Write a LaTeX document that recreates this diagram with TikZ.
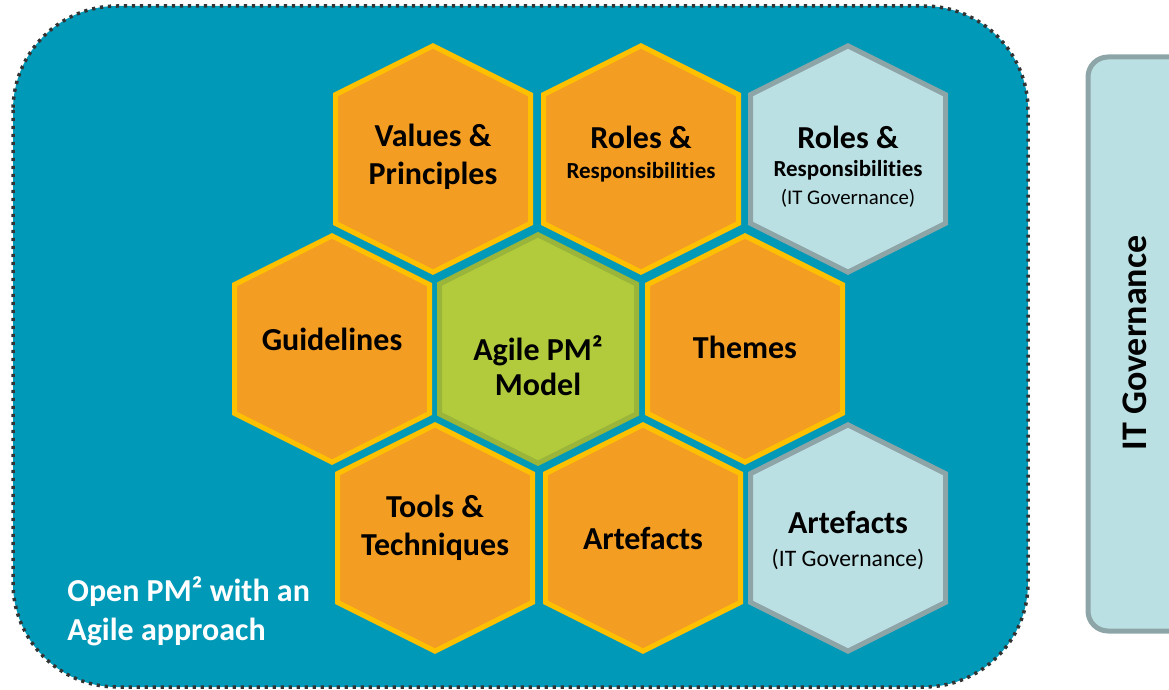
\documentclass[tikz,border=0pt]{standalone}
\usepackage{fontspec}
\setmainfont{Carlito}[Ligatures={NoCommon,NoContextual}]
\usepackage{tikz}

\definecolor{pmteal}{HTML}{0099B8}
\definecolor{pmorange}{HTML}{F49D23}
\definecolor{pmyellow}{HTML}{FFC000}
\definecolor{pmgreen}{HTML}{B1CB3C}
\definecolor{pmgreendark}{HTML}{9BB43A}
\definecolor{pmlight}{HTML}{BBE0E3}
\definecolor{pmgray}{HTML}{8EA5A7}
\definecolor{pmdots}{HTML}{333333}

% hexagon round (x,y), half width a
\newcommand{\hexpath}[3]{(#1,#2) ++(0,{-1.16*#3}) -- ++(#3,{0.5*#3}) -- ++(0,{1.32*#3})
  -- ++({-#3},{0.5*#3}) -- ++({-#3},{-0.5*#3}) -- ++(0,{-1.32*#3}) -- cycle}
\newcommand{\respons}{Responsibili\kern0pt ties}

\tikzset{
  orangecell/.style={fill=pmorange, draw=pmyellow, line width=2.5pt},
  govcell/.style={fill=pmlight, draw=pmgray, line width=2.5pt},
  bigtext/.style={align=center, inner sep=0pt, font=\fontsize{16}{19}\selectfont\bfseries},
  smalltext/.style={align=center, inner sep=0pt, font=\fontsize{16}{15}\selectfont\bfseries}
}

\begin{document}
\begin{tikzpicture}[x=0.5pt, y=-0.5pt]
  \useasboundingbox (0,0) rectangle (1169,690);

  % Rahmen
  \draw[fill=pmteal, draw=pmdots, line width=1.75pt, dash pattern=on 1.6pt off 2.4pt,
    rounded corners=52pt] (13,6) rectangle (1028,687);
  \draw[fill=pmlight, draw=pmgray, line width=2.5pt, rounded corners=10pt]
    (1088,57) rectangle (1200,631);
  \node[rotate=90, inner sep=0pt, font=\fontsize{18}{20}\selectfont\bfseries] (itgov)
    at (1135,343) {IT Governance};

  % Waben
  \draw[orangecell] \hexpath{433}{159}{97.5};
  \draw[orangecell] \hexpath{641}{159}{97.5};
  \draw[govcell] \hexpath{848}{159}{97.5};
  \draw[orangecell] \hexpath{332}{349}{97.5};
  \draw[orangecell] \hexpath{745}{349}{97.5};
  \draw[orangecell] \hexpath{435}{538}{97.5};
  \draw[orangecell] \hexpath{643}{538}{97.5};
  \draw[govcell] \hexpath{848}{538}{97.5};

  % Mitte
  \draw[fill=pmgreen, draw=pmteal, line width=4pt] \hexpath{538}{349}{100.5};
  \draw[draw=pmgreendark, line width=2.5pt] \hexpath{538}{349}{98.5};

  % Texte
  \node[bigtext] (values) at (433,157) {Values \&\\Principles};
  \node[smalltext] (roles) at (641,154)
    {Roles \&\\{\fontsize{11.5}{14}\selectfont\respons}};
  \node[smalltext, font=\fontsize{16}{14}\selectfont\bfseries] (rolesgov) at (848,167)
    {Roles \&\\{\fontsize{11.5}{14}\selectfont\respons}\\
     {\fontsize{10.4}{12}\selectfont\mdseries (IT Governance)}};
  \node[bigtext] (guide) at (332,339) {Guidelines};
  \node[bigtext, font=\fontsize{16}{17.5}\selectfont\bfseries] (agile) at (538,366)
    {Agile PM²\\Model};
  \node[bigtext] (themes) at (745,347) {Themes};
  \node[bigtext] (tools) at (435,528) {Tools \&\\Techniques};
  \node[bigtext] (artefacts) at (643,538) {Artefacts};
  \node[smalltext, font=\fontsize{16}{16.5}\selectfont\bfseries] (artefactsgov) at (848,541)
    {Artefacts\\{\fontsize{11.8}{14}\selectfont\mdseries (IT Governance)}};

  \node[anchor=west, align=left, inner sep=0pt, text=white,
    font=\fontsize{16}{19.5}\selectfont\bfseries] (openpm) at (67,611)
    {Open PM² with an\\Agile approach};
\end{tikzpicture}
\end{document}
